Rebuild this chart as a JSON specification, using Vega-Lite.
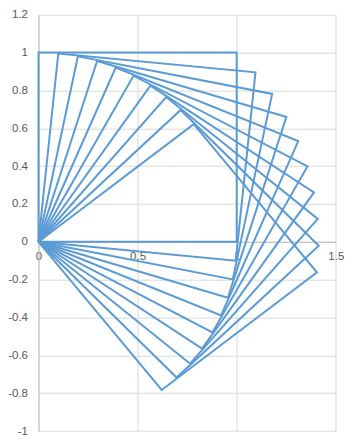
{
  "$schema": "https://vega.github.io/schema/vega-lite/v6.json",
  "width": 297.3,
  "height": 416.3,
  "autosize": {"type": "none"},
  "padding": {"left": 38.5, "top": 14.7, "right": 22.2, "bottom": 15},
  "background": "white",
  "config": {
    "view": {"stroke": null},
    "axis": {"labelFont": "Liberation Sans", "labelFontSize": 11.5, "labelColor": "#595959", "gridColor": "#D9D9D9", "gridWidth": 1, "domainColor": "#BFBFBF", "domainWidth": 1, "ticks": false, "title": null}
  },
  "data": {"values": [
    {"sq": 0, "i": 0, "x": 0, "y": 0}, {"sq": 0, "i": 1, "x": 1, "y": 0}, {"sq": 0, "i": 2, "x": 1, "y": 1}, {"sq": 0, "i": 3, "x": 0, "y": 1}, {"sq": 0, "i": 4, "x": 0, "y": 0},
    {"sq": 1, "i": 0, "x": 0, "y": 0}, {"sq": 1, "i": 1, "x": 0.995, "y": -0.0998}, {"sq": 1, "i": 2, "x": 1.0948, "y": 0.8952}, {"sq": 1, "i": 3, "x": 0.0998, "y": 0.995}, {"sq": 1, "i": 4, "x": 0, "y": 0},
    {"sq": 2, "i": 0, "x": 0, "y": 0}, {"sq": 2, "i": 1, "x": 0.9801, "y": -0.1987}, {"sq": 2, "i": 2, "x": 1.1788, "y": 0.7814}, {"sq": 2, "i": 3, "x": 0.1987, "y": 0.9801}, {"sq": 2, "i": 4, "x": 0, "y": 0},
    {"sq": 3, "i": 0, "x": 0, "y": 0}, {"sq": 3, "i": 1, "x": 0.9553, "y": -0.2955}, {"sq": 3, "i": 2, "x": 1.2508, "y": 0.6598}, {"sq": 3, "i": 3, "x": 0.2955, "y": 0.9553}, {"sq": 3, "i": 4, "x": 0, "y": 0},
    {"sq": 4, "i": 0, "x": 0, "y": 0}, {"sq": 4, "i": 1, "x": 0.9211, "y": -0.3894}, {"sq": 4, "i": 2, "x": 1.3105, "y": 0.5317}, {"sq": 4, "i": 3, "x": 0.3894, "y": 0.9211}, {"sq": 4, "i": 4, "x": 0, "y": 0},
    {"sq": 5, "i": 0, "x": 0, "y": 0}, {"sq": 5, "i": 1, "x": 0.8776, "y": -0.4794}, {"sq": 5, "i": 2, "x": 1.357, "y": 0.3982}, {"sq": 5, "i": 3, "x": 0.4794, "y": 0.8776}, {"sq": 5, "i": 4, "x": 0, "y": 0},
    {"sq": 6, "i": 0, "x": 0, "y": 0}, {"sq": 6, "i": 1, "x": 0.8253, "y": -0.5646}, {"sq": 6, "i": 2, "x": 1.3899, "y": 0.2607}, {"sq": 6, "i": 3, "x": 0.5646, "y": 0.8253}, {"sq": 6, "i": 4, "x": 0, "y": 0},
    {"sq": 7, "i": 0, "x": 0, "y": 0}, {"sq": 7, "i": 1, "x": 0.7648, "y": -0.6442}, {"sq": 7, "i": 2, "x": 1.409, "y": 0.1206}, {"sq": 7, "i": 3, "x": 0.6442, "y": 0.7648}, {"sq": 7, "i": 4, "x": 0, "y": 0},
    {"sq": 8, "i": 0, "x": 0, "y": 0}, {"sq": 8, "i": 1, "x": 0.6967, "y": -0.7174}, {"sq": 8, "i": 2, "x": 1.4141, "y": -0.0207}, {"sq": 8, "i": 3, "x": 0.7174, "y": 0.6967}, {"sq": 8, "i": 4, "x": 0, "y": 0},
    {"sq": 9, "i": 0, "x": 0, "y": 0}, {"sq": 9, "i": 1, "x": 0.6216, "y": -0.7833}, {"sq": 9, "i": 2, "x": 1.4049, "y": -0.1617}, {"sq": 9, "i": 3, "x": 0.7833, "y": 0.6216}, {"sq": 9, "i": 4, "x": 0, "y": 0}
  ]},
  "mark": {"type": "line", "color": "#5B9BD5", "strokeWidth": 2, "clip": false},
  "encoding": {
    "x": {"field": "x", "type": "quantitative",
      "scale": {"domain": [0, 1.5], "nice": false, "zero": false},
      "axis": {"orient": "bottom", "offset": -189.2, "values": [0, 0.5, 1, 1.5], "labelExpr": "'' + datum.value", "labelPadding": 9, "labelFlush": false, "labelOverlap": false}},
    "y": {"field": "y", "type": "quantitative",
      "scale": {"domain": [-1, 1.2], "nice": false, "zero": false},
      "axis": {"values": [-1, -0.8, -0.6, -0.4, -0.2, 0, 0.2, 0.4, 0.6, 0.8, 1, 1.2], "labelExpr": "'' + datum.value", "labelPadding": 11, "labelFlush": false, "labelOverlap": false}},
    "detail": {"field": "sq", "type": "nominal"},
    "order": {"field": "i", "type": "quantitative"}
  }
}
